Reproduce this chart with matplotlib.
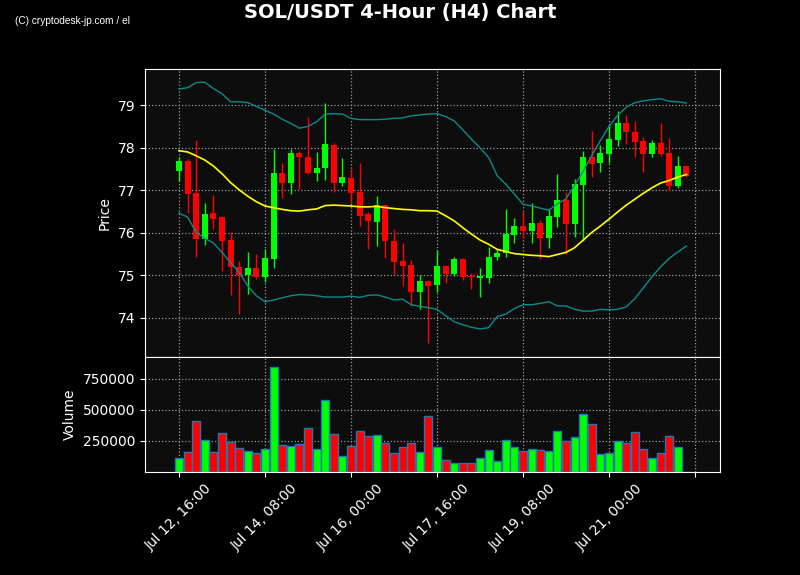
import numpy as np
import pandas as pd
import matplotlib
matplotlib.use("Agg")
import matplotlib.pyplot as plt

# --- data (4h candles from Jul 12 16:00) ---
start = "2024-07-12 16:00"
opens = [77.46, 77.68, 76.93, 75.86, 76.46, 76.37, 75.83, 75.19, 75.01, 75.17,
         74.96, 75.38, 77.40, 77.17, 77.87, 77.79, 77.41, 77.52, 78.06, 77.17,
         77.28, 76.95, 76.44, 76.25, 76.65, 75.80, 75.33, 75.24, 74.61, 74.86,
         74.77, 75.21, 75.03, 75.38, 74.99, 74.93, 74.93, 75.43, 75.52, 75.95,
         76.16, 76.05, 76.23, 75.88, 76.38, 76.77, 76.21, 77.13, 77.78, 77.64,
         77.86, 78.18, 78.58, 78.36, 78.15, 77.86, 78.12, 77.87, 77.10, 77.56]
highs = [77.79, 77.73, 78.19, 76.69, 76.90, 76.40, 76.03, 75.34, 75.56, 75.49,
         75.63, 77.96, 77.65, 77.97, 77.92, 78.71, 77.91, 79.04, 78.12, 77.75,
         77.50, 77.65, 76.48, 76.86, 76.66, 76.08, 75.76, 75.35, 75.00, 74.89,
         75.60, 75.24, 75.44, 75.40, 75.05, 75.18, 75.67, 75.63, 76.57, 76.34,
         76.52, 76.71, 76.29, 76.55, 77.39, 76.95, 77.26, 77.93, 78.39, 78.06,
         78.55, 78.87, 78.76, 78.63, 78.26, 78.18, 78.59, 78.23, 77.81, 77.59]
lows = [77.22, 76.46, 75.42, 75.72, 76.10, 75.11, 74.53, 74.10, 74.56, 74.91,
        74.85, 75.18, 76.81, 76.92, 77.04, 77.38, 77.22, 77.24, 76.95, 77.10,
        76.71, 76.15, 75.63, 75.69, 75.40, 75.02, 74.74, 74.29, 74.20, 73.40,
        74.60, 74.83, 74.99, 74.88, 74.67, 74.50, 74.82, 75.35, 75.43, 75.75,
        75.88, 75.77, 75.38, 75.64, 76.13, 75.50, 75.89, 75.81, 77.30, 77.44,
        77.64, 78.03, 78.08, 77.79, 77.42, 77.79, 77.81, 76.99, 77.06, 77.32]
closes = [77.68, 76.92, 75.86, 76.44, 76.33, 75.81, 75.20, 75.01, 75.17, 74.97,
          75.40, 77.40, 77.17, 77.87, 77.79, 77.41, 77.52, 78.08, 77.17, 77.31,
          76.93, 76.39, 76.28, 76.65, 75.80, 75.31, 75.21, 74.61, 74.86, 74.75,
          75.21, 75.03, 75.38, 74.96, 74.97, 74.99, 75.44, 75.52, 75.97, 76.16,
          76.05, 76.23, 75.88, 76.40, 76.77, 76.21, 77.14, 77.78, 77.61, 77.87,
          78.20, 78.58, 78.36, 78.14, 77.86, 78.12, 77.86, 77.10, 77.56, 77.34]
volumes = [110600, 159100, 409900, 256200, 159100, 312800, 240000, 191500, 172600, 151000,
           183400, 838700, 215700, 207700, 223800, 353300, 183400, 579800, 304700, 126700,
           207700, 329000, 288600, 296700, 231900, 151000, 199600, 231900, 159100, 450400,
           199600, 94400, 75500, 75500, 75500, 110600, 175300, 86300, 256200, 199600,
           167200, 183400, 175300, 167200, 329000, 248100, 280500, 466600, 385700, 142900,
           151000, 248100, 231900, 320900, 183400, 110600, 151000, 288600, 199600, 4000]
sma = [77.93, 77.90, 77.81, 77.71, 77.57, 77.39, 77.18, 77.01, 76.86, 76.73,
       76.63, 76.59, 76.55, 76.52, 76.51, 76.54, 76.56, 76.64, 76.65, 76.64,
       76.63, 76.61, 76.61, 76.62, 76.59, 76.57, 76.55, 76.54, 76.52, 76.52,
       76.51, 76.40, 76.28, 76.12, 75.97, 75.83, 75.73, 75.61, 75.56, 75.51,
       75.49, 75.47, 75.46, 75.44, 75.49, 75.54, 75.65, 75.83, 76.01, 76.16,
       76.32, 76.49, 76.65, 76.79, 76.93, 77.06, 77.17, 77.23, 77.31, 77.37]
bb_upper = [79.38, 79.41, 79.53, 79.54, 79.39, 79.27, 79.08, 79.08, 79.06, 78.97,
            78.88, 78.79, 78.67, 78.57, 78.46, 78.50, 78.61, 78.79, 78.80, 78.79,
            78.69, 78.66, 78.66, 78.66, 78.67, 78.69, 78.70, 78.75, 78.77, 78.79,
            78.80, 78.73, 78.63, 78.42, 78.20, 78.00, 77.77, 77.34, 77.14, 76.91,
            76.67, 76.63, 76.58, 76.53, 76.68, 76.80, 77.12, 77.45, 77.82, 78.17,
            78.50, 78.76, 78.95, 79.06, 79.10, 79.13, 79.15, 79.09, 79.08, 79.05]
bb_lower = [76.46, 76.37, 76.01, 75.87, 75.76, 75.54, 75.30, 75.07, 74.75, 74.52,
            74.38, 74.42, 74.47, 74.52, 74.55, 74.54, 74.52, 74.49, 74.49, 74.49,
            74.51, 74.48, 74.53, 74.54, 74.49, 74.42, 74.44, 74.31, 74.27, 74.24,
            74.20, 74.05, 73.91, 73.84, 73.78, 73.74, 73.77, 74.03, 74.09, 74.22,
            74.31, 74.31, 74.34, 74.38, 74.28, 74.28, 74.20, 74.16, 74.16, 74.20,
            74.19, 74.20, 74.26, 74.45, 74.71, 74.97, 75.20, 75.40, 75.55, 75.69]

df = pd.DataFrame({"open": opens, "high": highs, "low": lows, "close": closes,
                   "volume": volumes, "sma": sma, "upper": bb_upper, "lower": bb_lower})
df.index = pd.date_range(start, periods=len(df), freq="4h")

x = np.arange(len(df))
up = df["close"] >= df["open"]
colors = np.where(up, "#00ff00", "#ff0000")

fig = plt.figure(figsize=(8, 5.75), dpi=100, facecolor="black")
ax = fig.add_axes([0.18125, 0.3791, 0.71875, 0.5009])
axv = fig.add_axes([0.18125, 0.1791, 0.71875, 0.2], sharex=ax)

for a in (ax, axv):
    a.set_facecolor("#0d0d0d")
    for s in a.spines.values():
        s.set_color("white")
    a.tick_params(colors="white", labelsize=10)
    a.grid(True, linestyle=":", color="#9a9a9a", linewidth=0.9)
    a.set_axisbelow(True)

# candles
ax.vlines(x, df["low"], df["high"], colors=colors, linewidth=1, zorder=2)
body_lo = np.minimum(df["open"], df["close"])
body_h = np.maximum((df["close"] - df["open"]).abs(), 0.015)
ax.bar(x, body_h, bottom=body_lo, width=0.7, color=colors, zorder=3)

ax.plot(x, df["upper"], color="#0b8a8a", linewidth=1, zorder=4)
ax.plot(x, df["lower"], color="#0b8a8a", linewidth=1, zorder=4)
ax.plot(x, df["sma"], color="yellow", linewidth=1.2, zorder=4)

ax.set_ylim(73.08, 79.85)
ax.set_yticks([74, 75, 76, 77, 78, 79])
ax.set_ylabel("Price", color="white")
ax.tick_params(axis="x", bottom=False, labelbottom=False)

# volume
axv.bar(x, df["volume"], width=0.93, color=colors, edgecolor="#1f77b4", linewidth=1)
axv.set_ylim(0, df["volume"].max() * 1.1)
axv.set_yticks([250000, 500000, 750000])
axv.set_ylabel("Volume", color="white")

ticks = np.arange(0, len(df) + 1, 10)
labels = [df.index[i].strftime("%b %d, %H:%M") if i < len(df) else "" for i in ticks]
axv.set_xticks(ticks)
axv.set_xticklabels(labels, rotation=45, ha="center")
axv.set_xlim(-3.95, 62.9)

fig.text(0.5, 0.978, "SOL/USDT 4-Hour (H4) Chart", color="white", fontsize=14,
         fontweight="bold", ha="center", va="center")
fig.text(0.019, 0.963, "(C) cryptodesk-jp.com / el", color="white", fontsize=7.3,
         family="Liberation Sans", ha="left", va="center")

fig.savefig("out.png", dpi=100, facecolor="black")
